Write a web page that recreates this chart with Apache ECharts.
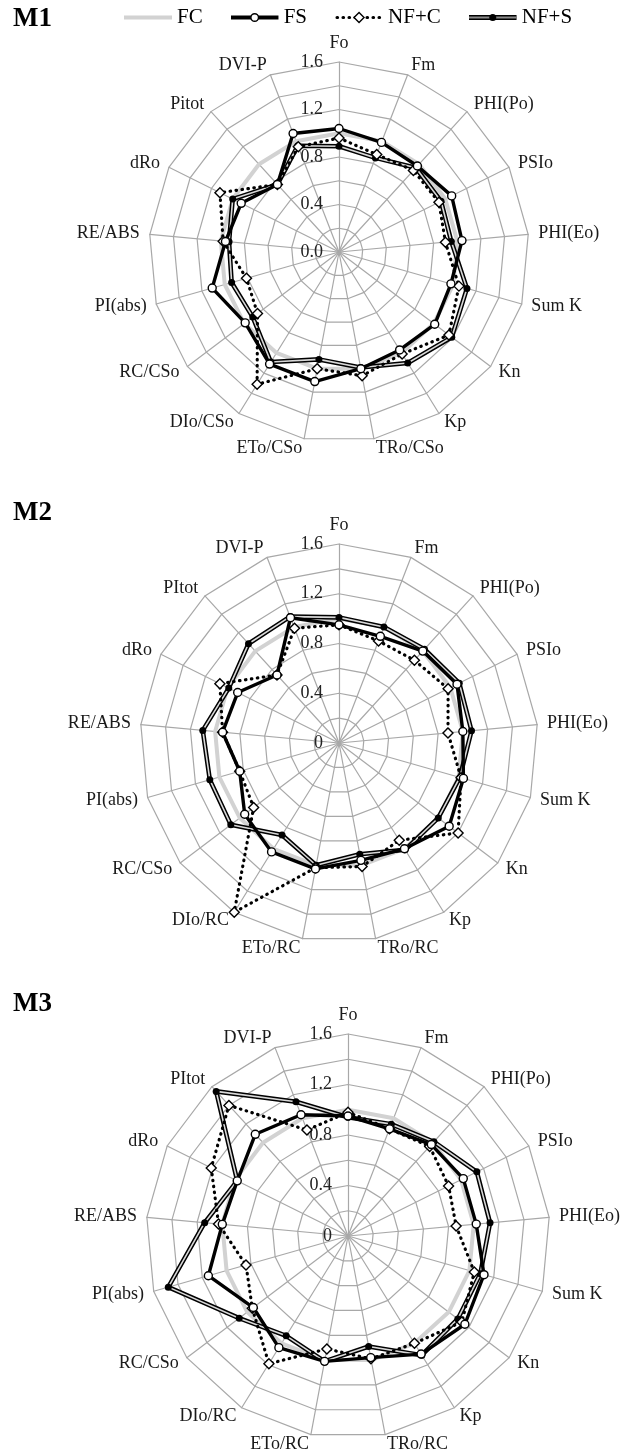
<!DOCTYPE html>
<html>
<head>
<meta charset="utf-8">
<script src="https://cdn.jsdelivr.net/npm/echarts@6/dist/echarts.min.js"></script>
<style>
  html, body { margin: 0; padding: 0; background: #fff; }
  #chart { width: 622px; height: 1455px; }
</style>
</head>
<body>
<div id="chart"></div>
<script>
// Parameter names, clockwise from the top
const axesM1 = ['Fo', 'Fm', 'PHI(Po)', 'PSIo', 'PHI(Eo)', 'Sum K', 'Kn', 'Kp', 'TRo/CSo', 'ETo/CSo', 'DIo/CSo', 'RC/CSo', 'PI(abs)', 'RE/ABS', 'dRo', 'Pitot', 'DVI-P'];
const axesM2 = ['Fo', 'Fm', 'PHI(Po)', 'PSIo', 'PHI(Eo)', 'Sum K', 'Kn', 'Kp', 'TRo/RC', 'ETo/RC', 'DIo/RC', 'RC/CSo', 'PI(abs)', 'RE/ABS', 'dRo', 'PItot', 'DVI-P'];
const axesM3 = ['Fo', 'Fm', 'PHI(Po)', 'PSIo', 'PHI(Eo)', 'Sum K', 'Kn', 'Kp', 'TRo/RC', 'ETo/RC', 'DIo/RC', 'RC/CSo', 'PI(abs)', 'RE/ABS', 'dRo', 'PItot', 'DVI-P'];

// Tick labels on the Fo axis
const ticksM1 = ['0.0', '0.4', '0.8', '1.2', '1.6'];
const ticksM2 = ['0', '0.4', '0.8', '1.2', '1.6'];
const ticksM3 = ['0', '0.4', '0.8', '1.2', '1.6'];

const seriesNames = ['FC', 'FS', 'NF+C', 'NF+S'];

// M1 values (relative to control)
const m1FC  = [1.00, 1.00, 1.00, 1.00, 1.00, 1.00, 1.00, 1.00, 1.00, 1.00, 1.00, 1.00, 1.00, 1.00, 1.00, 1.00, 1.00];
const m1FS  = [1.04, 0.99, 0.98, 1.06, 1.04, 0.98, 1.01, 0.97, 1.00, 1.11, 1.11, 0.99, 1.11, 0.96, 0.92, 0.77, 1.07];
const m1NFC = [0.96, 0.88, 0.93, 0.94, 0.90, 1.05, 1.16, 1.01, 1.06, 1.00, 1.31, 0.86, 0.81, 0.98, 1.12, 0.77, 0.95];
const m1NFS = [0.89, 0.85, 0.96, 0.96, 0.95, 1.12, 1.19, 1.10, 0.99, 0.92, 1.09, 0.91, 0.94, 0.93, 1.00, 0.77, 0.96];

// M2 values
const m2FC  = [1.00, 1.00, 1.00, 1.00, 1.00, 1.00, 1.00, 1.00, 1.00, 1.00, 1.00, 1.00, 1.00, 1.00, 1.00, 1.00, 1.00];
const m2FS  = [0.95, 0.92, 1.00, 1.06, 1.00, 1.04, 1.11, 1.00, 0.96, 1.03, 1.03, 0.95, 0.83, 0.94, 0.91, 0.74, 1.08];
const m2NFC = [0.95, 0.88, 0.90, 0.98, 0.88, 1.02, 1.20, 0.92, 1.01, 1.02, 1.60, 0.86, 0.83, 0.94, 1.07, 0.74, 0.99];
const m2NFS = [1.01, 1.00, 1.02, 1.08, 1.07, 1.01, 1.00, 1.01, 0.91, 1.00, 0.87, 1.09, 1.08, 1.10, 0.99, 1.08, 1.09];

// M3 values
const m3FC  = [1.00, 1.00, 1.00, 1.00, 1.00, 1.00, 1.00, 1.00, 1.00, 1.00, 1.00, 1.00, 1.00, 1.00, 1.00, 1.00, 1.00];
const m3FS  = [0.95, 0.91, 0.98, 1.02, 1.02, 1.12, 1.16, 1.10, 0.98, 1.01, 1.04, 0.94, 1.15, 1.00, 0.98, 1.09, 1.03];
const m3NFC = [0.98, 0.91, 0.96, 0.89, 0.86, 1.04, 1.13, 1.00, 0.99, 0.91, 1.19, 0.95, 0.84, 1.03, 1.21, 1.40, 0.90];
const m3NFS = [0.94, 0.95, 1.01, 1.14, 1.13, 1.09, 1.09, 1.11, 0.89, 1.01, 0.93, 1.08, 1.48, 1.14, 0.98, 1.55, 1.14];

const FONT = "'Liberation Serif', 'Times New Roman', serif";
const GRID = '#a8a8a8';

// ECharts lays radar indicators out counter-clockwise; flip to clockwise order.
const cw = arr => [arr[0]].concat(arr.slice(1).reverse());

function makeRadar(names, ticks, center, radius) {
  const indicator = cw(names).map((n, i) => {
    const ind = { name: n, min: 0, max: 1.6 };
    if (i === 0) {
      ind.axisLabel = {
        show: true,
        margin: 16,
        fontSize: 18,
        fontFamily: FONT,
        color: '#222',
        showMinLabel: true,
        showMaxLabel: true,
        formatter: v => {
          const k = Math.round(v / 0.4 * 1000) / 1000;
          return Number.isInteger(k) ? ticks[k] : '';
        }
      };
    }
    return ind;
  });
  return {
    center: center,
    radius: radius,
    startAngle: 90,
    shape: 'polygon',
    splitNumber: 8,
    nameGap: 10,
    indicator: indicator,
    axisName: { color: '#1a1a1a', fontSize: 18, fontFamily: FONT },
    axisLabel: { show: false },
    axisTick: { show: false },
    axisLine: { lineStyle: { color: GRID, width: 1.2 } },
    splitLine: { lineStyle: { color: GRID, width: 1.2 } },
    splitArea: { show: false }
  };
}

function makeSeries(idx, fc, fs, nfc, nfs) {
  const base = { type: 'radar', radarIndex: idx, silent: true, emphasis: { disabled: true } };
  return [
    Object.assign({}, base, {
      name: 'FC', z: 2,
      symbol: 'none',
      lineStyle: { color: '#d2d2d2', width: 4 },
      itemStyle: { color: '#d2d2d2' },
      data: [{ name: 'FC', value: cw(fc) }]
    }),
    Object.assign({}, base, {
      name: 'NF+S', z: 3,
      symbol: 'none',
      lineStyle: { color: '#000', width: 4.6 },
      itemStyle: { color: '#000' },
      data: [{ name: 'NF+S', value: cw(nfs) }]
    }),
    Object.assign({}, base, {
      name: 'NF+S', z: 3,
      symbol: 'circle', symbolSize: 7,
      lineStyle: { color: '#d8d8d8', width: 1.6 },
      itemStyle: { color: '#000' },
      data: [{ name: 'NF+S', value: cw(nfs) }]
    }),
    Object.assign({}, base, {
      name: 'NF+C', z: 4,
      symbol: 'diamond', symbolSize: 10,
      lineStyle: { color: '#000', width: 3.2, type: [0.5, 5.5], cap: 'round' },
      itemStyle: { color: '#fff', borderColor: '#000', borderWidth: 1.4 },
      data: [{ name: 'NF+C', value: cw(nfc) }]
    }),
    Object.assign({}, base, {
      name: 'FS', z: 5,
      symbol: 'circle', symbolSize: 8,
      lineStyle: { color: '#000', width: 3.4 },
      itemStyle: { color: '#fff', borderColor: '#000', borderWidth: 1.4 },
      data: [{ name: 'FS', value: cw(fs) }]
    })
  ];
}

function svgIcon(body) {
  const svg = "<svg xmlns='http://www.w3.org/2000/svg' width='48' height='14' viewBox='0 0 48 14'>" + body + "</svg>";
  return 'image://data:image/svg+xml;charset=utf-8,' + encodeURIComponent(svg);
}
const legendIcons = {
  'FC': svgIcon("<line x1='0' y1='7' x2='48' y2='7' stroke='#d2d2d2' stroke-width='4'/>"),
  'FS': svgIcon("<line x1='0' y1='7' x2='48' y2='7' stroke='#000' stroke-width='4'/><circle cx='24' cy='7' r='3.8' fill='#fff' stroke='#000' stroke-width='1.4'/>"),
  'NF+C': svgIcon("<line x1='2' y1='7' x2='46' y2='7' stroke='#000' stroke-width='3.2' stroke-dasharray='0.5 5.5' stroke-linecap='round'/><polygon points='24,2 29,7 24,12 19,7' fill='#fff' stroke='#000' stroke-width='1.4'/>"),
  'NF+S': svgIcon("<line x1='0' y1='7' x2='48' y2='7' stroke='#000' stroke-width='5'/><line x1='0' y1='7' x2='48' y2='7' stroke='#8c8c8c' stroke-width='2.2'/><circle cx='24' cy='7' r='3.5' fill='#000'/>")
};

const chart = echarts.init(document.getElementById('chart'), null, { renderer: 'canvas' });
const titleStyle = { fontSize: 27, fontWeight: 'bold', fontFamily: FONT, color: '#000' };

chart.setOption({
  animation: false,
  backgroundColor: '#fff',
  title: [
    { text: 'M1', left: 13, top: 6, padding: 0, textStyle: titleStyle },
    { text: 'M2', left: 13, top: 500, padding: 0, textStyle: titleStyle },
    { text: 'M3', left: 13, top: 991, padding: 0, textStyle: titleStyle }
  ],
  legend: {
    left: 124, top: 7, padding: 0,
    itemWidth: 48, itemHeight: 14, itemGap: 28,
    selectedMode: false,
    textStyle: { fontSize: 21, fontFamily: FONT, color: '#000' },
    data: seriesNames.map(n => ({ name: n, icon: legendIcons[n] }))
  },
  radar: [
    makeRadar(axesM1, ticksM1, [339, 252], 190),
    makeRadar(axesM2, ticksM2, [339, 743], 199),
    makeRadar(axesM3, ticksM3, [348, 1236], 202)
  ],
  series: [].concat(
    makeSeries(0, m1FC, m1FS, m1NFC, m1NFS),
    makeSeries(1, m2FC, m2FS, m2NFC, m2NFS),
    makeSeries(2, m3FC, m3FS, m3NFC, m3NFS)
  )
});
</script>
</body>
</html>
